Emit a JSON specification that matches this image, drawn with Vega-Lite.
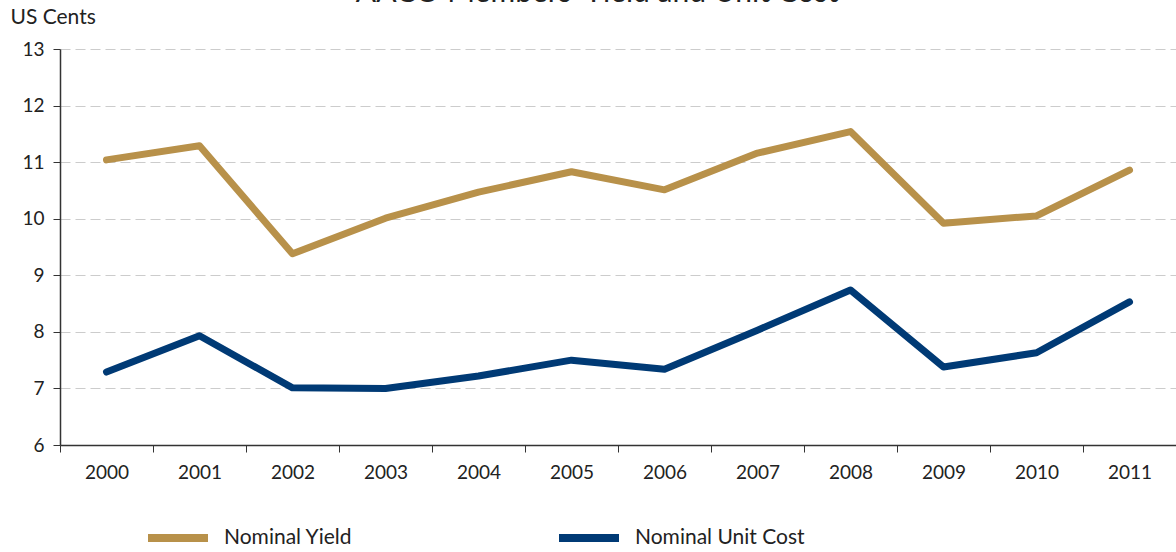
{
  "$schema": "https://vega.github.io/schema/vega-lite/v6.json",
  "width": 1116,
  "height": 396,
  "autosize": {"type": "none"},
  "padding": {"left": 60, "top": 49, "right": 0, "bottom": 107},
  "background": "white",
  "title": {
    "text": "AACO Members' Yield and Unit Cost",
    "fontSize": 30,
    "font": "Lato",
    "fontWeight": "normal",
    "color": "#222222",
    "anchor": "middle",
    "dx": -21,
    "dy": 6
  },
  "data": {
    "values": [
      {"year": "2000", "series": "Nominal Yield", "value": 11.04},
      {"year": "2001", "series": "Nominal Yield", "value": 11.29},
      {"year": "2002", "series": "Nominal Yield", "value": 9.38},
      {"year": "2003", "series": "Nominal Yield", "value": 10.01},
      {"year": "2004", "series": "Nominal Yield", "value": 10.47},
      {"year": "2005", "series": "Nominal Yield", "value": 10.83},
      {"year": "2006", "series": "Nominal Yield", "value": 10.51},
      {"year": "2007", "series": "Nominal Yield", "value": 11.16},
      {"year": "2008", "series": "Nominal Yield", "value": 11.54},
      {"year": "2009", "series": "Nominal Yield", "value": 9.92},
      {"year": "2010", "series": "Nominal Yield", "value": 10.05},
      {"year": "2011", "series": "Nominal Yield", "value": 10.86},
      {"year": "2000", "series": "Nominal Unit Cost", "value": 7.29},
      {"year": "2001", "series": "Nominal Unit Cost", "value": 7.93},
      {"year": "2002", "series": "Nominal Unit Cost", "value": 7.01},
      {"year": "2003", "series": "Nominal Unit Cost", "value": 7.0},
      {"year": "2004", "series": "Nominal Unit Cost", "value": 7.22},
      {"year": "2005", "series": "Nominal Unit Cost", "value": 7.5},
      {"year": "2006", "series": "Nominal Unit Cost", "value": 7.34},
      {"year": "2007", "series": "Nominal Unit Cost", "value": 8.03},
      {"year": "2008", "series": "Nominal Unit Cost", "value": 8.74},
      {"year": "2009", "series": "Nominal Unit Cost", "value": 7.38},
      {"year": "2010", "series": "Nominal Unit Cost", "value": 7.63},
      {"year": "2011", "series": "Nominal Unit Cost", "value": 8.53}
    ]
  },
  "mark": {"type": "line", "strokeWidth": 7, "strokeCap": "round", "strokeJoin": "round"},
  "encoding": {
    "x": {
      "field": "year",
      "type": "ordinal",
      "scale": {"type": "band", "paddingInner": 0, "paddingOuter": 0},
      "axis": {
        "title": null,
        "labelAngle": 0,
        "labelFontSize": 19,
        "labelFont": "Lato",
        "labelColor": "#222222",
        "labelPadding": 11,
        "tickBand": "extent",
        "tickSize": 7,
        "tickColor": "#333333",
        "domainColor": "#333333",
        "domainWidth": 1.5,
        "grid": false
      }
    },
    "y": {
      "field": "value",
      "type": "quantitative",
      "scale": {"domain": [6, 13], "nice": false, "zero": false},
      "axis": {
        "values": [6, 7, 8, 9, 10, 11, 12, 13],
        "title": "US Cents",
        "titleAngle": 0,
        "titleAlign": "left",
        "titleBaseline": "middle",
        "titleX": -50,
        "titleY": -32,
        "titleFont": "Lato",
        "titleFontSize": 21,
        "titleFontWeight": "normal",
        "titleColor": "#222222",
        "labelFontSize": 19,
        "labelFont": "Lato",
        "labelColor": "#222222",
        "labelPadding": 9,
        "tickSize": 7,
        "tickColor": "#333333",
        "domainColor": "#333333",
        "domainWidth": 1.5,
        "grid": true,
        "gridColor": "#cccccc",
        "gridDash": [10, 5],
        "gridWidth": 1.2
      }
    },
    "color": {
      "field": "series",
      "type": "nominal",
      "sort": ["Nominal Yield", "Nominal Unit Cost"],
      "scale": {"domain": ["Nominal Yield", "Nominal Unit Cost"], "range": ["#B8914A", "#003A75"]},
      "legend": {
        "title": null,
        "orient": "none",
        "direction": "horizontal",
        "legendX": 84,
        "legendY": 455,
        "symbolType": "stroke",
        "symbolSize": 3600,
        "symbolStrokeWidth": 8,
        "labelFontSize": 21,
        "labelFont": "Lato",
        "labelColor": "#222222",
        "labelOffset": 12,
        "columnPadding": 190,
        "labelLimit": 400
      }
    }
  },
  "config": {"view": {"stroke": null}}
}
